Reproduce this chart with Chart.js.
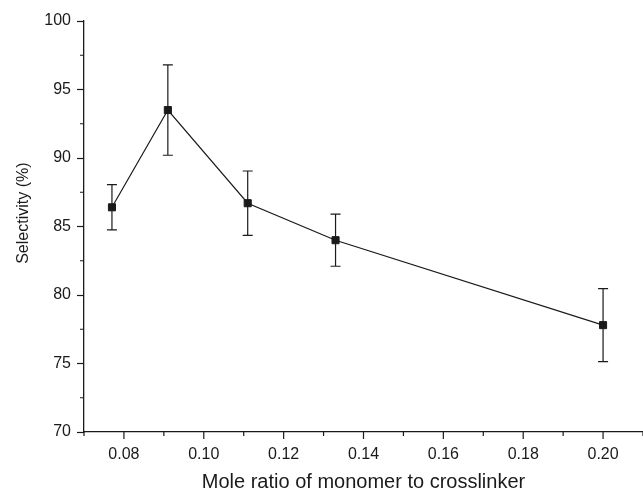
<!DOCTYPE html>
<html>
<head>
<meta charset="utf-8">
<script src="https://cdn.jsdelivr.net/npm/chart.js@4/dist/chart.umd.min.js"></script>
<style>
    html, body { margin: 0; padding: 0; background: #fff; }
    #wrap { width: 643px; height: 495px; }
</style>
</head>
<body>
<div id="wrap"><canvas id="selChart" width="643" height="495"></canvas></div>
<script>
const ratios = [0.077, 0.091, 0.111, 0.133, 0.200];
const selectivity = [86.4, 93.5, 86.7, 84.0, 77.8];
const errors = [1.65, 3.3, 2.35, 1.9, 2.67];

const xTickLabels = ['0.08', '0.10', '0.12', '0.14', '0.16', '0.18', '0.20'];
const yTickLabels = ['70', '75', '80', '85', '90', '95', '100'];

const ink = '#1a1a1a';
const fontFamily = 'Liberation Sans, Arial, sans-serif';

const isMajorX = v => Math.round(v * 100) % 2 === 0;
const isMajorY = v => Math.abs(v % 5) < 1e-6;

// error bars, drawn from the scales
const errorBars = {
    id: 'errorBars',
    afterDatasetsDraw(chart) {
        const { ctx, scales: { x, y } } = chart;
        ctx.save();
        ctx.strokeStyle = ink;
        ctx.lineWidth = 1.2;
        ratios.forEach((r, i) => {
            const px = x.getPixelForValue(r);
            const top = y.getPixelForValue(selectivity[i] + errors[i]);
            const bot = y.getPixelForValue(selectivity[i] - errors[i]);
            ctx.beginPath();
            ctx.moveTo(px, top); ctx.lineTo(px, bot);
            ctx.moveTo(px - 5, top); ctx.lineTo(px + 5, top);
            ctx.moveTo(px - 5, bot); ctx.lineTo(px + 5, bot);
            ctx.stroke();
        });
        ctx.restore();
    }
};

// outward ticks: long for labelled values, short in between
const axisTicks = {
    id: 'axisTicks',
    afterDraw(chart) {
        const { ctx, scales: { x, y } } = chart;
        ctx.save();
        ctx.strokeStyle = ink;
        ctx.lineWidth = 1.2;
        ctx.beginPath();
        x.ticks.forEach(t => {
            const px = x.getPixelForValue(t.value);
            ctx.moveTo(px, x.top); ctx.lineTo(px, x.top + (isMajorX(t.value) ? 7 : 4));
        });
        y.ticks.forEach(t => {
            if (isMajorY(t.value)) return;
            const py = y.getPixelForValue(t.value);
            ctx.moveTo(y.right, py); ctx.lineTo(y.right - 4, py);
        });
        ctx.stroke();
        ctx.restore();
    }
};

new Chart(document.getElementById('selChart'), {
    type: 'scatter',
    data: {
        datasets: [{
            data: ratios.map((r, i) => ({ x: r, y: selectivity[i] })),
            showLine: true,
            borderColor: ink,
            borderWidth: 1.2,
            backgroundColor: ink,
            pointStyle: 'rect',
            pointRadius: 5,
            pointBorderWidth: 1,
            pointBorderColor: ink,
            pointBackgroundColor: ink,
            tension: 0
        }]
    },
    options: {
        responsive: false,
        animation: false,
        // the x axis runs right to the edge of the picture
        layout: { autoPadding: false, padding: { top: 21, right: 0, bottom: 0, left: 0 } },
        plugins: {
            legend: { display: false },
            tooltip: { enabled: false }
        },
        scales: {
            x: {
                type: 'linear',
                min: 0.07,
                max: 0.21,
                afterFit: s => { s.height = 63; },
                border: { display: true, color: ink, width: 1.3 },
                grid: {
                    drawOnChartArea: false,
                    tickLength: 13,
                    tickColor: 'rgba(0,0,0,0)'
                },
                ticks: {
                    stepSize: 0.01,
                    autoSkip: false,
                    maxRotation: 0,
                    padding: 0,
                    color: ink,
                    font: { family: fontFamily, size: 16 },
                    callback: v => isMajorX(v) ? xTickLabels[(Math.round(v * 100) - 8) / 2] || '' : ''
                },
                title: {
                    display: true,
                    text: 'Mole ratio of monomer to crosslinker',
                    color: ink,
                    padding: { top: 0, bottom: 1 },
                    font: { family: fontFamily, size: 20 }
                }
            },
            y: {
                min: 70,
                max: 100,
                afterFit: s => { s.width = 84; },
                border: { display: true, color: ink, width: 1.3 },
                grid: {
                    drawOnChartArea: false,
                    tickLength: 7,
                    tickWidth: 1.2,
                    tickColor: c => isMajorY(c.tick.value) ? ink : 'rgba(0,0,0,0)'
                },
                ticks: {
                    stepSize: 2.5,
                    autoSkip: false,
                    padding: 6,
                    color: ink,
                    font: { family: fontFamily, size: 16 },
                    callback: v => isMajorY(v) ? yTickLabels[(v - 70) / 5] : ''
                },
                title: {
                    display: true,
                    // leading spaces nudge the rotated label upward, as in the original
                    text: '      Selectivity (%)',
                    color: ink,
                    padding: { top: 14, bottom: 0 },
                    font: { family: fontFamily, size: 16 }
                }
            }
        }
    },
    plugins: [errorBars, axisTicks]
});
</script>
</body>
</html>
